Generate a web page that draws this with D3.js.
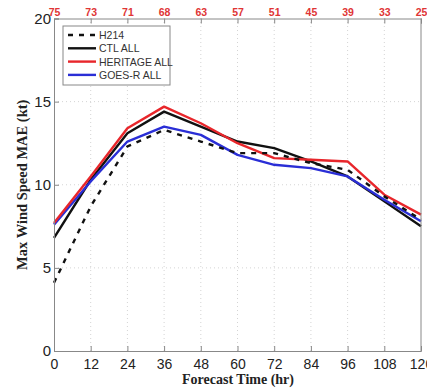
<!DOCTYPE html>
<html><head><meta charset="utf-8">
<script src="https://cdn.jsdelivr.net/npm/d3@7"></script>
<style>body{margin:0;background:#fff;overflow:hidden}</style>
</head><body>
<svg id="c" width="427" height="389"></svg>
<script>
const hours = [0,12,24,36,48,60,72,84,96,108,120];
const counts = ["75","73","71","68","63","57","51","45","39","33","25"];
const yTicks = [0,5,10,15,20];
const h214 = [4.1,8.7,12.3,13.3,12.6,11.9,11.9,11.3,10.9,9.3,7.9];
const ctl = [6.8,10.3,13.1,14.4,13.5,12.6,12.2,11.4,10.5,9.0,7.5];
const heritage = [7.7,10.5,13.4,14.7,13.7,12.5,11.6,11.5,11.4,9.4,8.2];
const goesr = [7.6,10.2,12.6,13.5,13.0,11.8,11.2,11.0,10.5,9.1,7.8];
const seriesNames = ["H214","CTL ALL","HERITAGE ALL","GOES-R ALL"];
const seriesColors = ["#111","#111","#e8262b","#2a2ed6"];

const svg = d3.select("#c");
const x = d3.scaleLinear().domain([0,120]).range([54,421]);
const y = d3.scaleLinear().domain([0,20]).range([351,18.5]);

// grid
const g = svg.append("g");
g.selectAll(".vg").data(hours.slice(1,-1)).enter().append("line")
 .attr("x1",d=>x(d)).attr("x2",d=>x(d)).attr("y1",y(0)).attr("y2",y(20))
 .attr("stroke","#d4d4d4").attr("stroke-dasharray","1,3");
g.selectAll(".hg").data(yTicks.slice(1,-1)).enter().append("line")
 .attr("x1",x(0)).attr("x2",x(120)).attr("y1",d=>y(d)).attr("y2",d=>y(d))
 .attr("stroke","#d4d4d4").attr("stroke-dasharray","1,3");

// lines
const line = d3.line().x((d,i)=>x(hours[i])).y(d=>y(d));
const all = [h214,ctl,heritage,goesr];
[ctl,goesr,heritage].forEach(s=>{
  const idx = all.indexOf(s);
  svg.append("path").datum(s).attr("d",line).attr("fill","none")
   .attr("stroke",seriesColors[idx]).attr("stroke-width",2.4).attr("stroke-linejoin","round");
});
svg.append("path").datum(h214).attr("d",line).attr("fill","none")
 .attr("stroke","#111").attr("stroke-width",2.4).attr("stroke-dasharray","5,6");

// axes
const xAx = d3.axisBottom(x).tickValues(hours).tickSize(-5).tickPadding(8).tickFormat(d3.format("d"));
const xg = svg.append("g").attr("transform",`translate(0,${y(0)})`).call(xAx);
const yAx = d3.axisLeft(y).tickValues(yTicks).tickSize(-5).tickPadding(3);
const yg = svg.append("g").attr("transform",`translate(${x(0)},0)`).call(yAx);
const xTop = d3.axisTop(x).tickValues(hours).tickSize(-5).tickPadding(3).tickFormat((d,i)=>counts[i]);
const xtg = svg.append("g").attr("transform",`translate(0,${y(20)})`).call(xTop);
svg.append("line").attr("x1",x(120)).attr("x2",x(120)).attr("y1",y(0)).attr("y2",y(20)).attr("stroke","#888");
[xg,yg,xtg].forEach(a=>{a.select(".domain").attr("stroke","#888");a.selectAll(".tick line").attr("stroke","#888");});
xg.selectAll("text").attr("font-family","Liberation Sans, Arial").attr("font-size",14).attr("fill","#222");
yg.selectAll("text").attr("font-family","Liberation Sans, Arial").attr("font-size",15).attr("fill","#222");
xtg.selectAll("text").attr("font-family","Liberation Sans, Arial").attr("font-size",10.5).attr("font-weight","bold").attr("fill","#e03535");

// titles
svg.append("text").attr("x",238).attr("y",384).attr("text-anchor","middle")
 .attr("font-family","Liberation Serif, Times New Roman").attr("font-weight","bold").attr("font-size",14).attr("fill","#222")
 .text("Forecast Time (hr)");
svg.append("text").attr("transform",`translate(27,${y(10)}) rotate(-90)`).attr("text-anchor","middle")
 .attr("font-family","Liberation Serif, Times New Roman").attr("font-weight","bold").attr("font-size",14.5).attr("fill","#222")
 .text("Max Wind Speed MAE (kt)");

// legend
const lg = svg.append("g");
lg.append("rect").attr("x",63).attr("y",26).attr("width",107).attr("height",59)
 .attr("fill","#fff").attr("stroke","#888");
seriesNames.forEach((n,i)=>{
  const yy = 35 + i*13.3;
  lg.append("line").attr("x1",68).attr("x2",96).attr("y1",yy).attr("y2",yy)
   .attr("stroke",seriesColors[i]).attr("stroke-width",2.4)
   .attr("stroke-dasharray",i===0?"5,6":null);
  lg.append("text").attr("x",99).attr("y",yy+4).attr("font-family","Liberation Sans, Arial")
   .attr("font-size",10.5).attr("fill","#333").text(n);
});
</script>
</body></html>
